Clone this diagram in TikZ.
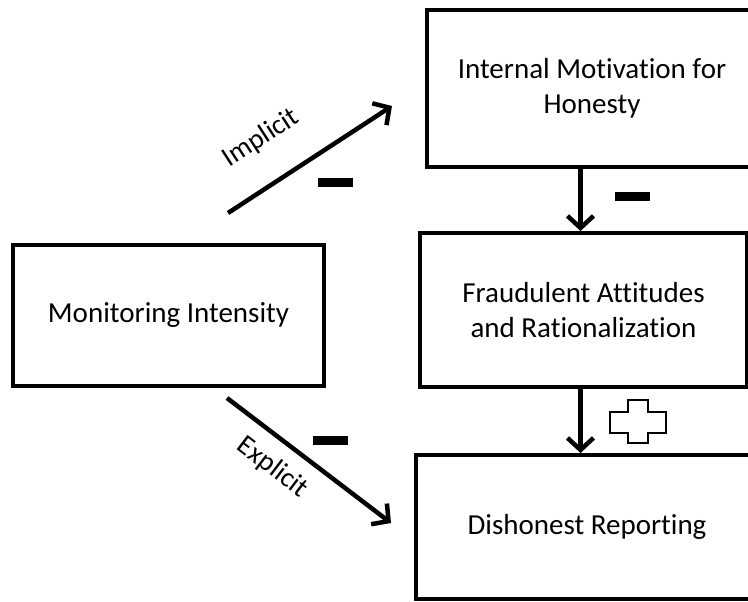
\documentclass[tikz,border=0pt]{standalone}
\usepackage{fontspec}
\setmainfont{Carlito}[Ligatures=NoCommon]
\usetikzlibrary{arrows.meta}

\begin{document}
\begin{tikzpicture} [x=1pt, y=-1pt, font=\fontsize{29}{35}\selectfont,
	box/.style={draw, line width=4pt, rectangle, align=center, inner sep=0pt},
	arr/.style={line width=4.5pt, -{Straight Barb[length=12pt, width=26pt]}},
	minus/.style={fill=black, rectangle, inner sep=0pt, minimum width=35pt, minimum height=9pt},
	lbl/.style={font=\fontsize{28}{34}\selectfont, sloped}]

\useasboundingbox (0,0) rectangle (748,602);

\node [box, minimum width=311pt, minimum height=141pt]	(mon) at (168.5,315)	{Monitoring Intensity};
\node [box, minimum width=330pt, minimum height=157pt]	(imh) at (592,88.5)		{Internal Motivation for\\Honesty};
\node [box, minimum width=327pt, minimum height=154pt]	(far) at (583.5,310)	{Fraudulent Attitudes\\and Rationalization};
\node [box, minimum width=342pt, minimum height=144pt]	(dr)  at (587,527)		{Dishonest Reporting};

\coordinate (impA) at (228,213);
\coordinate (impB) at (392,106);
\coordinate (expA) at (227,398);
\coordinate (expB) at (391,523);

\path[arr]
		(impA)	edge	node [lbl, pos=0.35, above=27pt]	{Implicit}	(impB)
		(expA)	edge	node [lbl, pos=0.38, below=10pt]	{Explicit}	(expB)
		([xshift=-3pt]far.north |- imh.south)	edge	([xshift=-3pt]far.north)
		([xshift=-3pt]far.south)	edge	([xshift=-3pt]far.south |- dr.north)
		;

\node [minus] (m1) at (335.5,182)	{};
\node [minus] (m2) at (632.5,196.5)	{};
\node [minus] (m3) at (330,440)		{};

\draw [line width=2.5pt] (628,400) -- (648,400) -- (648,412) -- (666,412) -- (666,433) -- (648,433)
	-- (648,443) -- (628,443) -- (628,433) -- (610,433) -- (610,412) -- (628,412) -- cycle;

\end{tikzpicture}
\end{document}
